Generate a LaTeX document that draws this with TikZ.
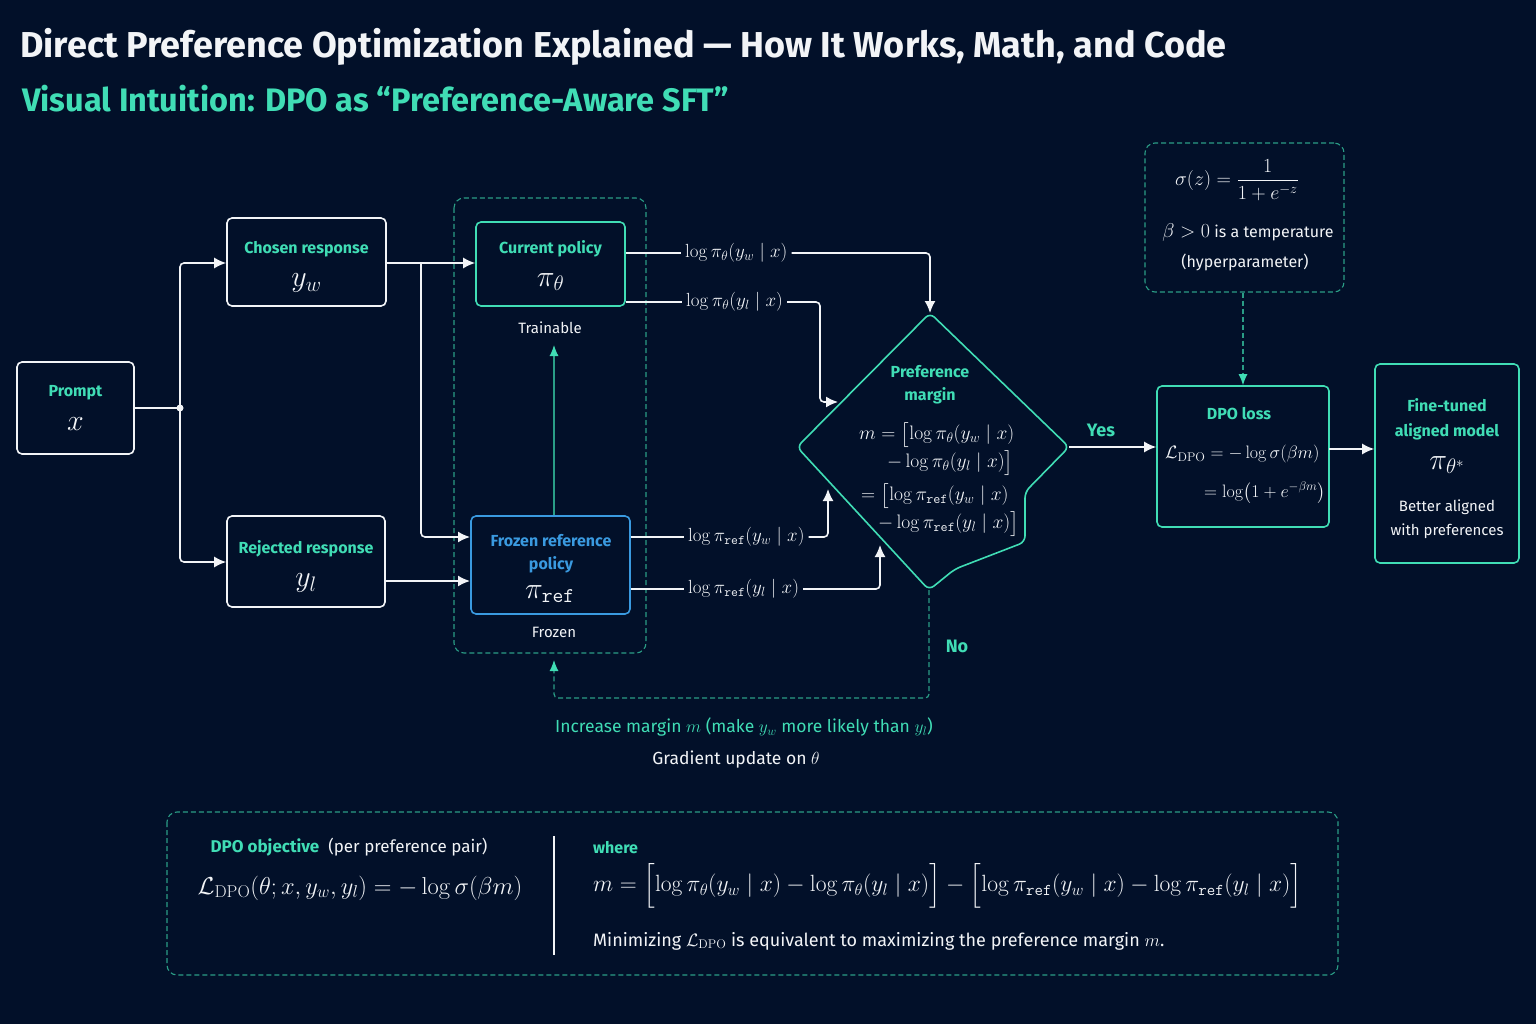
\RequirePackage{fix-cm}
\documentclass[tikz,border=0pt]{standalone}
\usepackage{amsmath}
\usepackage[no-math]{fontspec}
\setmainfont{Fira Sans}
\usetikzlibrary{arrows.meta,calc}
\definecolor{bgc}{HTML}{021029}
\definecolor{tealc}{HTML}{40DDB5}
\definecolor{teald}{HTML}{2A9D86}
\definecolor{bluec}{HTML}{3A9AE0}
\definecolor{whc}{HTML}{F2F4F7}
\newcommand\fsz[1]{\fontsize{#1pt}{#1pt}\selectfont}
\newcommand\pref{\mathtt{ref}}
\tikzset{
  box/.style={draw=whc,line width=1.6pt,rounded corners=5pt,inner sep=0pt},
  tbox/.style={draw=tealc,line width=1.6pt,rounded corners=5pt,inner sep=0pt},
  bbox/.style={draw=bluec,line width=1.6pt,rounded corners=5pt,inner sep=0pt},
  dbox/.style={draw=teald,line width=1.1pt,dashed,dash pattern=on 5pt off 3pt,rounded corners=10pt},
  lbl/.style={text=tealc,font=\fsz{16}\bfseries,inner sep=0pt},
  txt/.style={text=whc,font=\fsz{15},inner sep=0pt},
  mth/.style={text=whc,font=\fsz{30},inner sep=0pt},
  wline/.style={draw=whc,line width=1.6pt,rounded corners=4pt},
  tline/.style={draw=teald,line width=1.2pt,dashed,dash pattern=on 5pt off 3pt,rounded corners=4pt},
  arr/.style={-{Latex[length=12pt,width=11pt]}},
  tarr/.style={-{Latex[length=11pt,width=9pt,color=tealc]}},
  lab/.style={text=whc,font=\fsz{19},inner sep=4pt},
}
\begin{document}
\begin{tikzpicture}[x=1pt,y=-1pt]
\useasboundingbox (0,0) rectangle (1536,1024);
\fill[bgc] (0,0) rectangle (1536,1024);
% titles
\node[anchor=west,text=whc,font=\fsz{36}\bfseries,inner sep=0pt] (title) at (20,47) {Direct Preference Optimization Explained — How It Works, Math, and Code};
\node[anchor=west,text=tealc,font=\fsz{32.5}\bfseries,inner sep=0pt] (subtitle) at (22,99) {Visual Intuition: DPO as “Preference-Aware SFT”};
% group box
\draw[dbox] (454,198) rectangle (646,653);
% boxes
\node[box,minimum width=117pt,minimum height=92pt] (prompt) at (75.5,408) {};
\node[lbl] (promptl) at (75.5,393) {Prompt};
\node[mth] (promptm) at (75.5,424) {$x$};
\node[box,minimum width=159pt,minimum height=88pt] (chosen) at (306.5,262) {};
\node[lbl] (chosenl) at (306.5,249) {Chosen response};
\node[mth] (chosenm) at (306.5,283) {$y_w$};
\node[box,minimum width=158pt,minimum height=91pt] (rejected) at (306,561.5) {};
\node[lbl] (rejl) at (306,549) {Rejected response};
\node[mth] (rejm) at (306,583) {$y_l$};
\node[tbox,minimum width=149pt,minimum height=84pt] (current) at (550.5,264) {};
\node[lbl] (curl) at (550.5,249) {Current policy};
\node[mth] (curm) at (550.5,282) {$\pi_\theta$};
\node[txt] (trainable) at (550,328) {Trainable};
\node[bbox,minimum width=159pt,minimum height=98pt] (frozen) at (550.5,565) {};
\node[lbl,text=bluec] (frl1) at (551,541) {Frozen reference};
\node[lbl,text=bluec] (frl2) at (551,565) {policy};
\node[mth] (frm) at (550,594) {$\pi_{\pref}$};
\node[txt] (frozenl) at (554,632) {Frozen};
% internal teal arrow
\coordinate (tr) at (554,345);
\draw[draw=teald,line width=1.1pt,tarr] (tr |- frozen.north) -- (tr);
% connectors from prompt
\coordinate (jn) at (180,408);
\draw[wline] (prompt.east |- jn) -- (jn);
\draw[wline,arr] (jn) |- (chosen.west |- 0,263);
\draw[wline,arr] (jn) |- (rejected.west |- 0,562);
\fill[whc] (jn) circle (3.5pt);
\coordinate (br) at (421,263);
\coordinate (fin1) at (470,537);
\coordinate (fin2) at (470,581);
\draw[wline,arr] (chosen.east |- br) -- (current.west |- br);
\draw[wline,arr] (br) |- (fin1);
\draw[wline,arr] (rejected.east |- fin2) -- (fin2);
% diamond
\coordinate (dtop) at (930,313);
\coordinate (dright) at (1069,447);
\coordinate (dbot) at (929,590);
\coordinate (dleft) at (797,447);
\draw[draw=tealc,line width=1.6pt,rounded corners=6pt] (dtop) -- (dright) -- (1025,492) -- (1025,542) -- (955,569) -- (dbot) -- (dleft) -- cycle;
\node[lbl] (dml1) at (930,372) {Preference};
\node[lbl] (dml2) at (930,396) {margin};
\node[mth,font=\fsz{19.5},anchor=west] (dm1) at (859,435) {$m = \bigl[\log\pi_\theta(y_w\mid x)$};
\node[mth,font=\fsz{19.5},anchor=west] (dm2) at (887,463) {$-\log\pi_\theta(y_l\mid x)\bigr]$};
\node[mth,font=\fsz{19.5},anchor=west] (dm3) at (861,496) {$= \bigl[\log\pi_{\pref}(y_w\mid x)$};
\node[mth,font=\fsz{19.5},anchor=west] (dm4) at (878,524) {$-\log\pi_{\pref}(y_l\mid x)\bigr]$};
% log-prob labels
\node[lab,anchor=west] (lp1) at (681,253) {$\log\pi_\theta(y_w\mid x)$};
\node[lab,anchor=west] (lp2) at (682,302) {$\log\pi_\theta(y_l\mid x)$};
\node[lab,anchor=west] (lp3) at (684,537) {$\log\pi_{\pref}(y_w\mid x)$};
\node[lab,anchor=west] (lp4) at (684,589) {$\log\pi_{\pref}(y_l\mid x)$};
\coordinate (din2) at (838,402);
\coordinate (din3) at (828,489);
\coordinate (din4) at (880,545);
\draw[wline] (current.east |- lp1) -- (lp1.west);
\draw[wline,arr] (lp1.east) -| (dtop);
\draw[wline] (current.east |- lp2) -- (lp2.west);
\draw[wline,arr] (lp2.east) -- (820,302) |- (din2);
\draw[wline] (frozen.east |- lp3) -- (lp3.west);
\draw[wline,arr] (lp3.east) -| (din3);
\draw[wline] (frozen.east |- lp4) -- (lp4.west);
\draw[wline,arr] (lp4.east) -| (din4);
% DPO loss
\node[tbox,minimum width=172pt,minimum height=141pt] (loss) at (1243,456.5) {};
\node[lbl] (lossl) at (1239,414) {DPO loss};
\node[mth,font=\fsz{18},anchor=west] (lossm1) at (1165,454) {$\mathcal{L}_{\mathrm{DPO}} = -\log\sigma(\beta m)$};
\node[mth,font=\fsz{18},anchor=west] (lossm2) at (1204,493) {$= \log\bigl(1+e^{-\beta m}\bigr)$};
\draw[wline,arr] (dright) -- (dright -| loss.west);
\node[lbl,font=\fsz{18}\bfseries] (yes) at (1101,430) {Yes};
% fine-tuned
\node[tbox,minimum width=144pt,minimum height=199pt] (fine) at (1447,463.5) {};
\node[lbl] (fl1) at (1447,405) {Fine-tuned};
\node[lbl] (fl2) at (1447,432) {aligned model};
\node[mth] (flm) at (1447,465) {$\pi_{\theta^*}$};
\node[txt] (fl3) at (1447,507) {Better aligned};
\node[txt] (fl4) at (1447,531) {with preferences};
\coordinate (lo) at (1329,449);
\draw[wline,arr] (lo) -- (lo -| fine.west);
% sigma box
\node[dbox,minimum width=199pt,minimum height=149pt,inner sep=0pt] (sig) at (1244.5,217.5) {};
\node[mth,font=\fsz{20}] (sigm) at (1237,180) {$\displaystyle\sigma(z) = \frac{1}{1+e^{-z}}$};
\node[txt,font=\fsz{16}] (sigt1) at (1248,233) {{\fontsize{20pt}{20pt}\selectfont$\beta > 0$} is a temperature};
\node[txt,font=\fsz{16}] (sigt2) at (1245,262) {(hyperparameter)};
\draw[draw=teald,line width=1.1pt,dashed,dash pattern=on 5pt off 3pt,tarr] (sig.south -| loss.north) -- (loss.north);
% No loop
\node[lbl,font=\fsz{18}\bfseries] (no) at (957,646) {No};
\coordinate (lp) at (929,698);
\coordinate (fb) at (554,660);
\draw[tline,tarr] (dbot) -- (lp) -| (fb);
\node[txt,text=tealc,font=\fsz{17.5}] (inc) at (744,727) {Increase margin $m$ (make $y_w$ more likely than $y_l$)};
\node[txt,font=\fsz{17.5}] (grad) at (736,760) {Gradient update on $\theta$};
% bottom box
\draw[dbox] (167,812) rectangle (1338,975);
\draw[draw=whc,line width=1.3pt] (554,836) -- (554,955);
\node[txt,font=\fsz{17}] (objl) at (349,847) {{\color{tealc}\bfseries DPO objective}\ \ (per preference pair)};
\node[mth,font=\fsz{24.5}] (objm) at (360,888) {$\mathcal{L}_{\mathrm{DPO}}(\theta; x, y_w, y_l) = -\log\sigma(\beta m)$};
\node[lbl,anchor=west] (where) at (593,848) {where};
\node[mth,font=\fsz{23.5},anchor=west] (mm) at (593,886) {$m = \Bigl[\log\pi_\theta(y_w\mid x) - \log\pi_\theta(y_l\mid x)\Bigr] - \Bigl[\log\pi_{\pref}(y_w\mid x) - \log\pi_{\pref}(y_l\mid x)\Bigr]$};
\node[txt,font=\fsz{18},anchor=west] (minl) at (593,941) {Minimizing $\mathcal{L}_{\mathrm{DPO}}$ is equivalent to maximizing the preference margin $m$.};
\end{tikzpicture}
\end{document}
